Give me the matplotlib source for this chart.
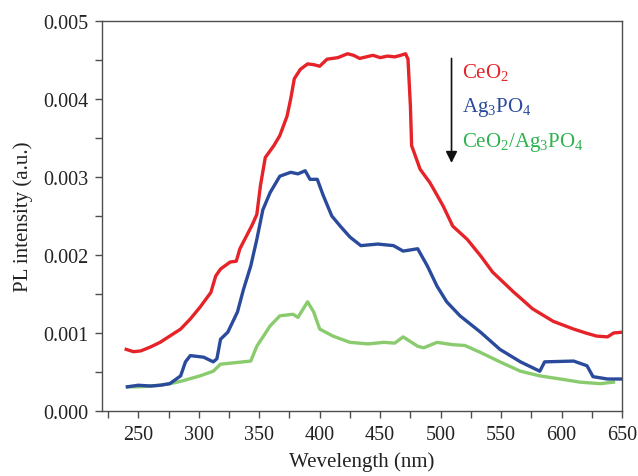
import matplotlib
matplotlib.use("Agg")
import matplotlib.pyplot as plt
from matplotlib.ticker import MultipleLocator, FormatStrFormatter

plt.rcParams['font.family'] = ['Liberation Serif', 'DejaVu Serif']
plt.rcParams['mathtext.fontset'] = 'custom'
plt.rcParams['mathtext.rm'] = 'Liberation Serif'
plt.rcParams['mathtext.it'] = 'Liberation Serif:italic'

# PL spectra (wavelength in nm, intensity in a.u.)
ceo2_wl = [240, 246, 252, 260, 268, 276, 285, 293, 301, 310, 314, 318, 326, 331,
           334, 338, 344, 348, 351, 355, 362, 367, 373, 376, 379, 384, 390, 395, 400,
           406, 415, 423, 428, 433, 444, 450, 456, 462, 467, 471, 473, 475, 476,
           477, 483, 491, 494, 502, 510, 522, 533, 543, 560, 576, 593, 610, 620,
           629, 638, 643, 650]
ceo2_pl = [0.00079, 0.00076, 0.00077, 0.00082, 0.00088, 0.00096, 0.00105, 0.00118,
           0.00133, 0.00152, 0.00173, 0.00182, 0.00191, 0.00192, 0.00208, 0.00220,
           0.00238, 0.00252, 0.00289, 0.00325, 0.00340, 0.00353, 0.00378, 0.00400,
           0.00426, 0.00438, 0.00445, 0.00444, 0.00442, 0.00451, 0.00453, 0.00458,
           0.00456, 0.00452, 0.00456, 0.00453, 0.00455, 0.00454, 0.00456, 0.00458,
           0.00451, 0.00391, 0.00340, 0.00336, 0.00310, 0.00293, 0.00285, 0.00263,
           0.00237, 0.00220, 0.00199, 0.00178, 0.00153, 0.00131, 0.00115, 0.00105,
           0.00100, 0.00096, 0.00095, 0.00100, 0.00101]

ag3po4_wl = [241, 250, 260, 268, 276, 285, 289, 293, 304, 312, 315, 318, 324, 332,
             337, 343, 348, 353, 359, 367, 376, 382, 388, 392, 398, 403, 410, 417,
             425, 434, 448, 461, 469, 481, 489, 497, 505, 516, 533, 549, 566, 582,
             586, 610, 621, 626, 638, 650]
ag3po4_pl = [0.00031, 0.00033, 0.00032, 0.00033, 0.00035, 0.00045, 0.00063, 0.00071,
             0.00069, 0.00063, 0.00067, 0.00092, 0.00101, 0.00127, 0.00156, 0.00186,
             0.00220, 0.00258, 0.00280, 0.00301, 0.00306, 0.00304, 0.00308, 0.00297,
             0.00297, 0.00276, 0.00250, 0.00237, 0.00223, 0.00212, 0.00214, 0.00212,
             0.00205, 0.00208, 0.00186, 0.00160, 0.00140, 0.00122, 0.00101, 0.00079,
             0.00063, 0.00051, 0.00063, 0.00064, 0.00058, 0.00044, 0.00041, 0.00041]

comp_wl = [241, 250, 260, 268, 276, 285, 301, 312, 318, 343, 348, 359, 367, 378,
           382, 390, 395, 400, 411, 425, 440, 453, 462, 469, 481, 486, 497, 510,
           520, 533, 549, 566, 582, 599, 615, 632, 643]
comp_pl = [0.00031, 0.00031, 0.00032, 0.00033, 0.00035, 0.00038, 0.00045, 0.00051,
           0.00060, 0.00064, 0.00083, 0.00109, 0.00122, 0.00124, 0.00120, 0.00140,
           0.00127, 0.00105, 0.00096, 0.00088, 0.00086, 0.00088, 0.00087, 0.00095,
           0.00083, 0.00081, 0.00088, 0.00085, 0.00084, 0.00075, 0.00063, 0.00051,
           0.00045, 0.00041, 0.00037, 0.00035, 0.00037]

red, blue, green_line, green_text = '#e52329', '#2a4a9c', '#8acb6e', '#2fb24f'

fig = plt.figure(figsize=(6.38, 4.77), dpi=100)
ax = fig.add_axes([0.1599, 0.1363, 0.8151, 0.8176])

ax.plot(comp_wl, comp_pl, color=green_line, lw=2.4, zorder=2)
ax.plot(ag3po4_wl, ag3po4_pl, color=blue, lw=2.4, zorder=3)
ax.plot(ceo2_wl, ceo2_pl, color=red, lw=2.4, zorder=4)

ax.set_xlim(220, 650)
ax.set_ylim(0, 0.005)
ax.xaxis.set_major_locator(MultipleLocator(50))
ax.xaxis.set_minor_locator(MultipleLocator(25))
ax.yaxis.set_major_locator(MultipleLocator(0.001))
ax.yaxis.set_minor_locator(MultipleLocator(0.0005))
ax.yaxis.set_major_formatter(FormatStrFormatter('%.3f'))

for s in ax.spines.values():
    s.set_color('#4d4d4d')
    s.set_linewidth(1.0)
ax.tick_params(which='both', direction='out', length=5, width=1, color='#4d4d4d',
               top=False, right=False, labelsize=14.5, labelcolor='#222222', pad=5)

ax.set_xlabel('Wevelength (nm)', fontsize=15, color='#222222', labelpad=5)
ax.set_ylabel('PL intensity (a.u.)', fontsize=15, color='#222222', labelpad=7)

# arrow marking the decreasing emission order
ax.annotate('', xy=(509, 0.00318), xytext=(509, 0.00452),
            arrowprops=dict(arrowstyle='-|>', color='#111111', lw=1.2,
                            mutation_scale=17, shrinkA=0, shrinkB=0))
ax.text(518, 0.00435, r'CeO$_\mathregular{2}$', color=red, fontsize=15,
        va='center', ha='left')
ax.text(518, 0.0039, r'Ag$_\mathregular{3}$PO$_\mathregular{4}$', color=blue,
        fontsize=15, va='center', ha='left')
ax.text(518, 0.00345,
        r'CeO$_\mathregular{2}$/Ag$_\mathregular{3}$PO$_\mathregular{4}$',
        color=green_text, fontsize=15, va='center', ha='left')

fig.savefig('out.png', dpi=100)
